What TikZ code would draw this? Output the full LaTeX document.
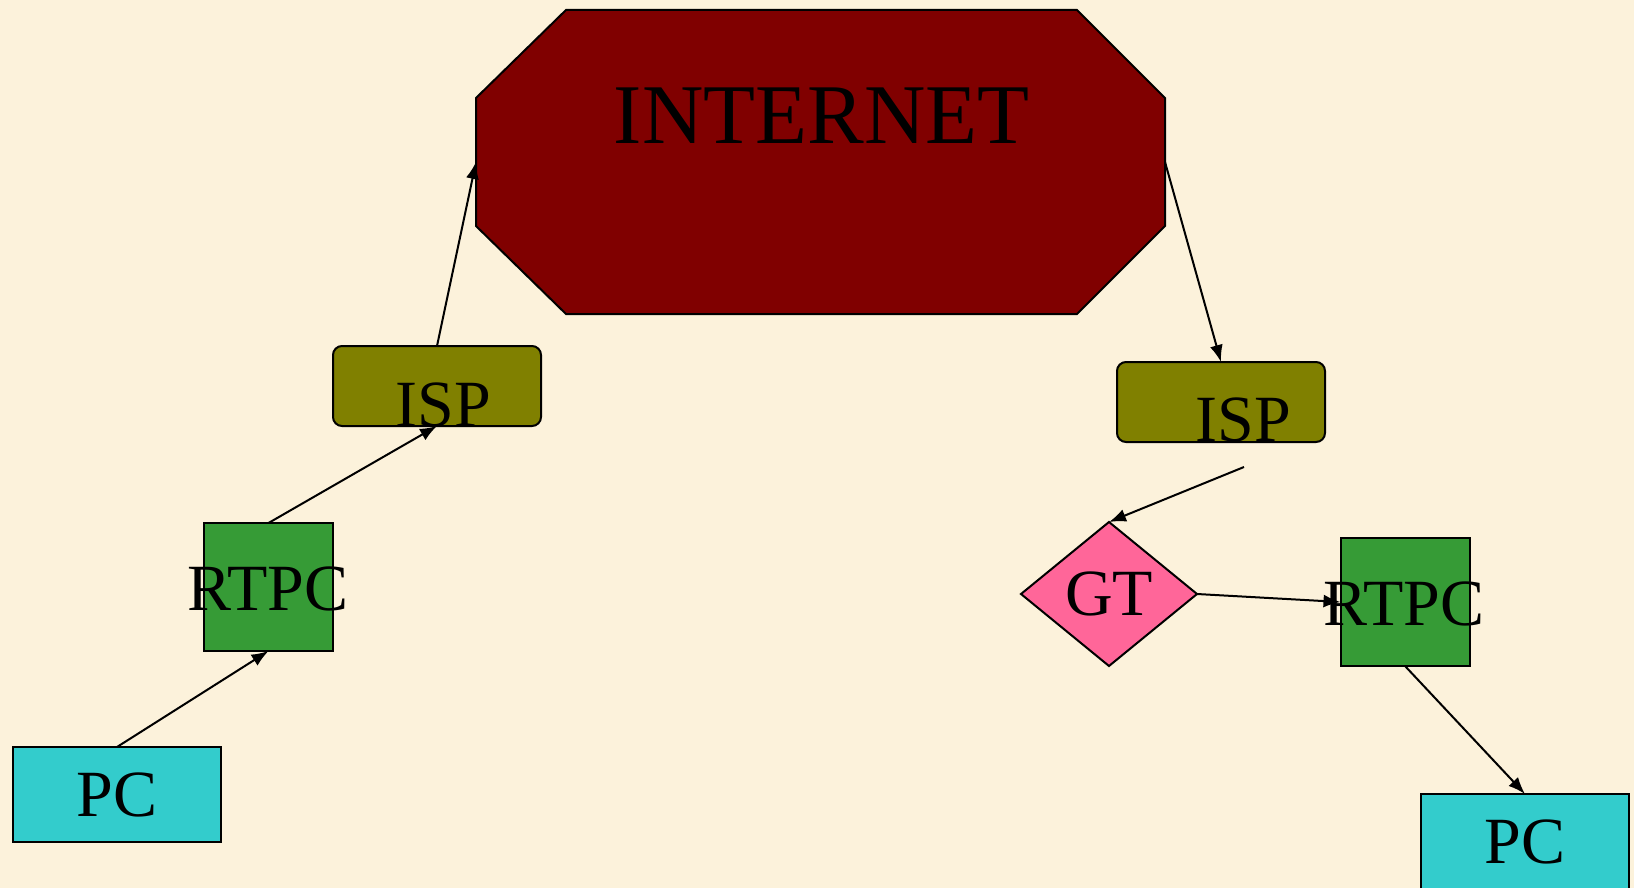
\documentclass[tikz,border=0pt]{standalone}
\usepackage{fontspec}
\setmainfont{Liberation Serif}
\usetikzlibrary{arrows.meta,shapes.geometric}
\definecolor{bgc}{RGB}{252,242,219}
\definecolor{inetc}{RGB}{128,0,0}
\definecolor{ispc}{RGB}{128,128,0}
\definecolor{rtpcc}{RGB}{54,155,54}
\definecolor{pcc}{RGB}{51,204,204}
\definecolor{gtc}{RGB}{255,102,153}
\tikzset{
  box/.style={draw=black, line width=1pt, inner sep=0pt, outer sep=0pt},
  ispbox/.style={box, fill=ispc, rounded corners=4.5pt, minimum width=104pt, minimum height=40pt},
  rtpcbox/.style={box, fill=rtpcc, minimum width=64.5pt, minimum height=64pt},
  pcbox/.style={box, fill=pcc, minimum width=104pt, minimum height=47.5pt, font=\fontsize{33pt}{38pt}\selectfont},
  gtbox/.style={box, fill=gtc, diamond, minimum width=88pt, minimum height=72pt, font=\fontsize{33pt}{38pt}\selectfont},
  bigtext/.style={inner sep=0pt, font=\fontsize{33pt}{38pt}\selectfont},
  arr/.style={draw=black, line width=1pt, -{Latex[length=8.5pt,width=6.5pt]}}
}
\begin{document}
\begin{tikzpicture}[x=0.5pt,y=-0.5pt]
\fill[bgc] (0,0) rectangle (1634,888);
\useasboundingbox (0,0) rectangle (1634,888);
% INTERNET octagon
\filldraw[fill=inetc, draw=black, line width=1pt] (566,10) -- (1077,10) -- (1165,98) -- (1165,226) -- (1077,314) -- (566,314) -- (476,226) -- (476,98) -- cycle;
\node[inner sep=0pt, outer sep=0pt, minimum width=344.5pt, minimum height=152pt] (inet) at (820.5,162) {};
\node[inner sep=0pt, anchor=base, font=\fontsize{42.5pt}{50pt}\selectfont] (inettext) at (821.5,144) {INTERNET};
% left side
\node[ispbox] (isp1) at (437,386) {};
\node[bigtext, anchor=base] (isp1text) at (443.5,426) {ISP};
\node[rtpcbox] (rt1) at (268.5,587) {};
\node[bigtext, anchor=base] (rt1text) at (268,610) {RTPC};
\node[pcbox] (pc1) at (117,794.5) {PC};
% right side
\node[ispbox] (isp2) at (1221,402) {};
\node[bigtext, anchor=base] (isp2text) at (1243.5,441) {ISP};
\node[gtbox] (gt) at (1109,594) {GT};
\node[rtpcbox] (rt2) at (1405,602) {};
\node[bigtext, anchor=base] (rt2text) at (1404,625) {RTPC};
\node[pcbox] (pc2) at (1525,841.5) {PC};
\coordinate (g0) at (1244,467);
% connectors
\draw[arr] (pc1.north) -- (rt1.south);
\draw[arr] (rt1.north) -- (isp1.south);
\draw[arr] (isp1.north) -- (inet.west);
\draw[arr] (inet.east) -- (isp2.north);
\draw[arr] (g0) -- (gt.north);
\draw[arr] (gt.east) -- (rt2.west);
\draw[arr] (rt2.south) -- (pc2.north);
\end{tikzpicture}
\end{document}
